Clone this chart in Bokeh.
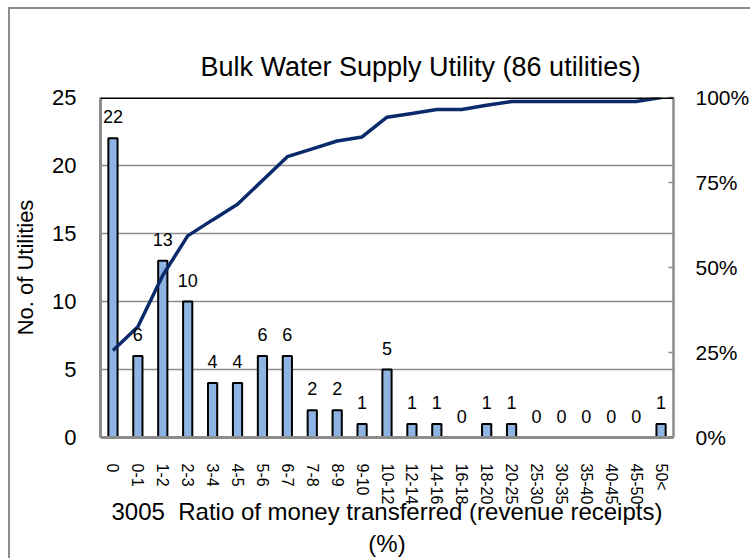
from bokeh.plotting import figure
from bokeh.models import (FactorRange, Range1d, LinearAxis, FixedTicker, NumeralTickFormatter,
                          Span, LabelSet, ColumnDataSource)
from bokeh.core.properties import value
from bokeh.embed import file_html
from bokeh.resources import INLINE

categories = ["0", "0-1", "1-2", "2-3", "3-4", "4-5", "5-6", "6-7", "7-8", "8-9", "9-10",
              "10-12", "12-14", "14-16", "16-18", "18-20", "20-25", "25-30", "30-35",
              "35-40", "40-45", "45-50", "50<"]
counts = [22, 6, 13, 10, 4, 4, 6, 6, 2, 2, 1, 5, 1, 1, 0, 1, 1, 0, 0, 0, 0, 0, 1]
cumulative = [0.256, 0.326, 0.477, 0.593, 0.640, 0.686, 0.756, 0.826, 0.849, 0.872, 0.884,
              0.942, 0.953, 0.965, 0.965, 0.977, 0.988, 0.988, 0.988, 0.988, 0.988, 0.988, 1.0]
left_ticks = [0, 5, 10, 15, 20, 25]
right_ticks = [0, 0.25, 0.5, 0.75, 1.0]

title_text = "Bulk Water Supply Utility (86 utilities)"
xlabel = "3005\u00a0 Ratio of money transferred (revenue receipts)\n(%)"
ylabel = "No. of Utilities"

FONT = "Liberation Sans"
GREY = "#8c8c8c"

src = ColumnDataSource(dict(cat=categories, n=counts, lab=[str(c) for c in counts], cum=cumulative))

p = figure(width=742, height=551, x_range=FactorRange(*categories), y_range=Range1d(0, 25),
           output_backend="svg", toolbar_location=None,
           min_border_left=90, min_border_right=79, min_border_top=88, min_border_bottom=123,
           styles={"margin-left": "8px", "margin-top": "7px",
                   "border-top": "2px solid #8c8c8c", "border-left": "2px solid #8c8c8c"})
p.outline_line_color = None
p.extra_y_ranges = {"pct": Range1d(0, 1)}

p.vbar(x="cat", top="n", width=0.37, source=src, fill_color="#8DB4E2",
       line_color="black", line_width=2)
p.line(x="cat", y="cum", source=src, y_range_name="pct", line_color="#0B2A6B", line_width=3.5)

labels = LabelSet(x="cat", y="n", text="lab", source=src, y_offset=15, text_align="center",
                  text_baseline="alphabetic", text_font=value(FONT), text_font_size="18px",
                  text_color="black")
p.add_layout(labels)

# title
p.title.text = title_text
p.title.align = "left"
p.title.offset = 100
p.title.standoff = 31
p.title.text_font = FONT
p.title.text_font_size = "27px"
p.title.text_font_style = "normal"
p.title.text_color = "black"

# grid
p.xgrid.grid_line_color = None
p.ygrid.ticker = FixedTicker(ticks=[5, 10, 15, 20])
p.ygrid.grid_line_color = GREY
p.ygrid.grid_line_width = 1.5

# left axis
ya = p.yaxis[0]
ya.ticker = FixedTicker(ticks=left_ticks)
ya.axis_line_color = GREY
ya.axis_line_width = 3
ya.major_tick_out = 0
ya.major_tick_in = 0
ya.minor_tick_line_color = None
ya.major_label_standoff = 24
ya.major_label_text_font = FONT
ya.major_label_text_font_size = "22px"
ya.major_label_text_color = "black"
ya.axis_label = ylabel
ya.axis_label_text_font = FONT
ya.axis_label_text_font_size = "22px"
ya.axis_label_text_font_style = "normal"
ya.axis_label_text_color = "black"
ya.axis_label_standoff = 11

# right axis
ra = LinearAxis(y_range_name="pct", ticker=FixedTicker(ticks=right_ticks),
                formatter=NumeralTickFormatter(format="0%"))
ra.axis_line_color = GREY
ra.axis_line_width = 2.5
ra.major_tick_out = 0
ra.major_tick_in = 5
ra.major_tick_line_color = GREY
ra.major_tick_line_width = 1.5
ra.minor_tick_line_color = None
ra.major_label_standoff = 22
ra.major_label_text_font = FONT
ra.major_label_text_font_size = "21px"
ra.major_label_text_color = "black"
p.add_layout(ra, "right")

# bottom axis
xa = p.xaxis[0]
xa.axis_line_color = GREY
xa.axis_line_width = 3
xa.major_tick_line_color = None
xa.minor_tick_line_color = None
xa.major_label_orientation = "vertical"
xa.major_label_standoff = 20
xa.major_label_text_font = FONT
xa.major_label_text_font_size = "16px"
xa.major_label_text_color = "black"
xa.axis_label = xlabel
xa.axis_label_text_font = FONT
xa.axis_label_text_font_size = "24px"
xa.axis_label_text_font_style = "normal"
xa.axis_label_text_color = "black"
xa.axis_label_text_line_height = 1.17
xa.axis_label_standoff = -9

# top black border line
p.add_layout(Span(location=25, dimension="width", line_color="black", line_width=3))

open("out.html", "w").write(file_html(p, INLINE))
